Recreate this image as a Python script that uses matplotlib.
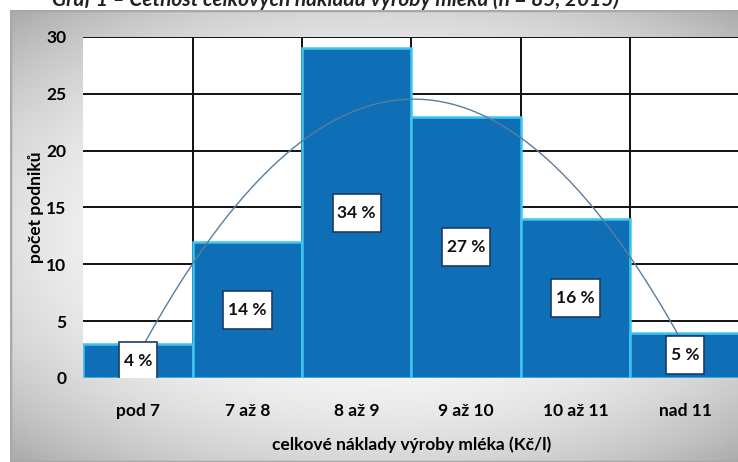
import numpy as np
import matplotlib.pyplot as plt
from matplotlib.patches import Rectangle

plt.rcParams['font.family'] = ['Lato', 'DejaVu Sans']

# data
kategorie = ['pod 7', '7 až 8', '8 až 9', '9 až 10', '10 až 11', 'nad 11']
pocet = [3, 12, 29, 23, 14, 4]
podil = ['4 %', '14 %', '34 %', '27 %', '16 %', '5 %']
y_ticks = [0, 5, 10, 15, 20, 25, 30]

fig = plt.figure(figsize=(7.38, 4.62), dpi=100)

# grey frame with soft gradient
bg = fig.add_axes([10 / 738, 0, 1, 1 - 10 / 462])
yy, xx = np.mgrid[-1:1:200j, -1:1:300j]
r = np.clip(np.sqrt((xx * 0.9) ** 2 + (yy * 1.0) ** 2), 0, 1.4)
bg.imshow(1 - 0.16 * r ** 2.5, cmap='gray', vmin=0, vmax=1, aspect='auto',
          extent=[0, 1, 0, 1])
bg.set_xlim(0, 1)
bg.set_ylim(0, 1)
bg.axis('off')
bg.add_patch(Rectangle((0, 0), 1.2, 1, fill=False, ec='#a8a8a8', lw=2.5,
                       transform=bg.transAxes))

# title (cut at the top, like in the source)
fig.text(0.455, 1 - 6 / 462, 'Graf 1 – Četnost celkových nákladů výroby mléka (n = 85, 2015)',
         ha='center', va='baseline', fontsize=15, fontweight='bold',
         fontstyle='italic', color='#222222')

ax = fig.add_axes([83 / 738, 84 / 462, 657 / 738, 341 / 462])
x = np.arange(len(kategorie))
ax.bar(x, pocet, width=1.0, color='#0f6fb6', edgecolor='#3fc6ef', lw=1.8, zorder=3)

# trend (2nd order polynomial like excel)
koef = np.polyfit(x + 1, pocet, 2)
xs = np.linspace(0, 5, 200)
ax.plot(xs, np.polyval(koef, xs + 1), color='#5b7c9c', lw=1, zorder=4)

ax.set_xlim(-0.5, 5.5)
ax.set_ylim(0, 30)

texty = []
for xi, v, t in zip(x, pocet, podil):
    texty.append(ax.text(xi, v / 2, t, ha='center', va='center', fontsize=12.5,
                         fontweight='bold', color='#111111', zorder=6))

# label boxes: a bit taller than the text, like excel data labels
fig.canvas.draw()
rend = fig.canvas.get_renderer()
inv = ax.transData.inverted()
for t in texty:
    bb = t.get_window_extent(rend)
    x0, y0 = inv.transform((bb.x0 - 5, bb.y0 - 11))
    x1, y1 = inv.transform((bb.x1 + 5, bb.y1 + 11))
    ax.add_patch(Rectangle((x0, y0), x1 - x0, y1 - y0, fc='white',
                           ec='#1f3b63', lw=1.2, zorder=5))

ax.set_yticks(y_ticks)
ax.set_xticks(x)
ax.set_xticklabels(kategorie)
ax.grid(axis='y', color='#111111', lw=1.4, zorder=0)
for b in np.arange(0.5, 5.5, 1):
    ax.axvline(b, color='#111111', lw=1.4, zorder=0)
for s in ax.spines.values():
    s.set_visible(False)
ax.tick_params(length=0, labelsize=12.5, pad=12)
ax.tick_params(axis='x', pad=18)
for lab in ax.get_xticklabels() + ax.get_yticklabels():
    lab.set_fontweight('bold')
ax.set_ylabel('počet podniků', fontsize=12.5, fontweight='bold')
ax.yaxis.set_label_coords(-0.06, 0.5)
ax.set_xlabel('celkové náklady výroby mléka (Kč/l)', fontsize=12.5,
              fontweight='bold')
ax.xaxis.set_label_coords(0.5, -0.17)

fig.savefig('out.png', dpi=100)
